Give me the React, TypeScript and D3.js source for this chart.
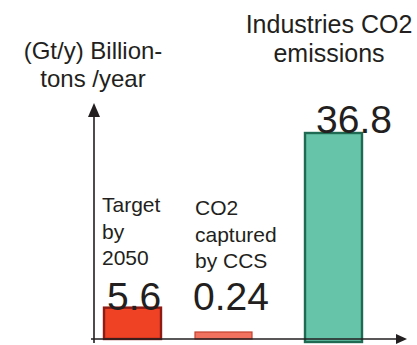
import React from "react";
import * as d3 from "d3";

const categories = ["Target by 2050", "CO2 captured by CCS", "Industries CO2 emissions"];
const values = [5.6, 0.24, 36.8];
const valueLabels = ["5.6", "0.24", "36.8"];
const descLines = [["Target", "by", "2050"], ["CO2", "captured", "by CCS"], []];
const titleLines = ["Industries CO2", "emissions"];
const axisTitleLines = ["(Gt/y) Billion-", "tons /year"];

const W = 417;
const H = 345;
const FONT = "'Liberation Sans', Arial, Helvetica, sans-serif";
const TEXT = "#231f20";

const fills = ["#ef4123", "#f27260", "#66c4a8"];
const strokes = ["#8e1b14", "#c2412f", "#1f6a52"];

export default function App() {
  const axisX = 94;
  const axisY = 339;
  const y = d3.scaleLinear().domain([0, 36.8]).range([axisY, 133]);
  const x = d3.scaleOrdinal<string, number>().domain(categories).range([104, 195, 305]);
  const barW = 57;
  const minH = 7;
  const numDx = [3, -2, 11];

  return (
    <svg
      width={W}
      height={H}
      style={{ position: "absolute", left: 0, top: 0, background: "#fff" }}
      fontFamily={FONT}
    >
      <rect width={W} height={H} fill="#fff" />
      {/* axis title */}
      {axisTitleLines.map((t, i) => (
        <text key={t} x={93} y={59 + i * 28} textAnchor="middle" fontSize={24} fill={TEXT}>
          {t}
        </text>
      ))}
      {/* chart title */}
      {titleLines.map((t, i) => (
        <text key={t} x={329} y={32.5 + i * 29.5} textAnchor="middle" fontSize={25} fill={TEXT}>
          {t}
        </text>
      ))}
      {/* bars */}
      {categories.map((c, i) => {
        const top = y(values[i]);
        const h = Math.max(axisY - top, minH);
        const extra = i === 2 ? 3 : 0;
        return (
          <rect
            key={c}
            x={x(c)}
            y={axisY - h}
            width={barW}
            height={h + extra}
            fill={fills[i]}
            stroke={strokes[i]}
            strokeWidth={i === 1 ? 1.2 : 2.4}
          />
        );
      })}
      {/* desc labels */}
      {categories.map((c, i) =>
        descLines[i].map((t, j) => (
          <text
            key={c + t}
            x={x(c) - (i === 0 ? 2 : 0)}
            y={(i === 0 ? 212 : 215) + j * 26.5}
            fontSize={21}
            fill={TEXT}
          >
            {t}
          </text>
        ))
      )}
      {/* value labels */}
      {categories.map((c, i) => (
        <text
          key={"v" + c}
          x={x(c) + numDx[i]}
          y={i === 2 ? y(values[i]) : 310}
          fontSize={39}
          fill={TEXT}
        >
          {valueLabels[i]}
        </text>
      ))}
      {/* axes */}
      <line x1={axisX} x2={axisX} y1={115} y2={343} stroke={TEXT} strokeWidth={1.6} />
      <path d={`M${axisX},103 L${axisX - 6},117 L${axisX + 6},117 Z`} fill={TEXT} />
      <line x1={91} x2={398} y1={axisY} y2={axisY} stroke={TEXT} strokeWidth={1.6} />
      <path d={`M407,${axisY} L396,${axisY - 5} L396,${axisY + 5} Z`} fill={TEXT} />
    </svg>
  );
}
